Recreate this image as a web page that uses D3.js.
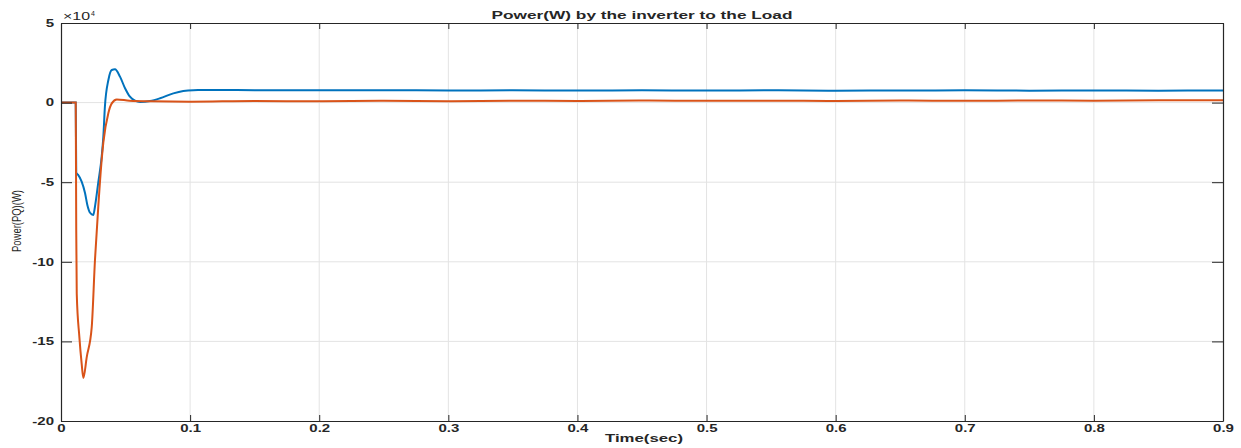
<!DOCTYPE html>
<html>
<head>
<meta charset="utf-8">
<script src="https://cdn.jsdelivr.net/npm/d3@7"></script>
<style>
  html, body { margin: 0; padding: 0; background: #fff; }
  svg { display: block; }
  text { font-family: "Liberation Sans", Arial, sans-serif; fill: #262626; }
</style>
</head>
<body>
<svg id="chart" width="1241" height="448"></svg>
<script>
// ---- data (values in units of 1e4 W) ----
const xTicks = [0, 0.1, 0.2, 0.3, 0.4, 0.5, 0.6, 0.7, 0.8, 0.9];
const yTicks = [5, 0, -5, -10, -15, -20];
const xTickLabels = ["0", "0.1", "0.2", "0.3", "0.4", "0.5", "0.6", "0.7", "0.8", "0.9"];
const yTickLabels = ["5", "0", "-5", "-10", "-15", "-20"];

const blueT = [0, 0.0114, 0.0118, 0.0125, 0.0134, 0.016, 0.0186, 0.0204, 0.0225, 0.025, 0.0263, 0.0289, 0.0315, 0.0328, 0.034, 0.0367, 0.0393, 0.0418, 0.0457, 0.0496, 0.0534, 0.0573, 0.0612, 0.069, 0.0767, 0.087, 0.0947, 0.1025, 0.12, 0.15, 0.2, 0.25, 0.3, 0.35, 0.4, 0.45, 0.5, 0.55, 0.6, 0.65, 0.7, 0.75, 0.8, 0.85, 0.9];
const blueV = [0, 0, -4.4, -4.48, -4.55, -4.97, -5.68, -6.43, -6.92, -7.06, -6.54, -5.0, -3.4, -2.14, -0.26, 1.42, 2.05, 2.09, 1.63, 0.9, 0.37, 0.12, 0.04, 0.1, 0.27, 0.58, 0.73, 0.78, 0.79, 0.78, 0.77, 0.78, 0.76, 0.77, 0.76, 0.77, 0.76, 0.77, 0.75, 0.76, 0.77, 0.75, 0.76, 0.75, 0.76];

const orangeT = [0, 0.0114, 0.0118, 0.0122, 0.0142, 0.016, 0.0173, 0.0199, 0.0238, 0.0263, 0.0289, 0.0315, 0.0328, 0.0367, 0.0393, 0.0432, 0.053, 0.07, 0.1, 0.15, 0.2, 0.25, 0.3, 0.35, 0.4, 0.45, 0.5, 0.55, 0.6, 0.65, 0.7, 0.75, 0.8, 0.85, 0.9];
const orangeV = [0, 0, -8.0, -12.0, -14.7, -16.4, -17.3, -16.0, -14.1, -9.9, -6.5, -3.6, -2.5, -0.65, -0.05, 0.2, 0.12, 0.08, 0.06, 0.1, 0.08, 0.11, 0.09, 0.12, 0.1, 0.13, 0.11, 0.12, 0.1, 0.13, 0.11, 0.13, 0.12, 0.14, 0.14];

const blueData = blueT.map((t, i) => ({ t, v: blueV[i] }));
const orangeData = orangeT.map((t, i) => ({ t, v: orangeV[i] }));

// ---- layout ----
const L = 61, R = 1223, T = 23, B = 421;
const svg = d3.select("#chart");
const x = d3.scaleLinear().domain([0, 0.9]).range([L, R]);
const y = d3.scaleLinear().domain([-20, 5]).range([B, T]);
const SX = 1.5; // horizontal stretch of the reference text

// grid
const grid = svg.append("g");
grid.selectAll("line.gx").data(xTicks.slice(1, -1)).join("line")
  .attr("x1", d => x(d)).attr("x2", d => x(d)).attr("y1", T).attr("y2", B)
  .attr("stroke", "#e3e3e3").attr("stroke-width", 1);
grid.selectAll("line.gy").data(yTicks.slice(1, -1)).join("line")
  .attr("y1", d => y(d)).attr("y2", d => y(d)).attr("x1", L).attr("x2", R)
  .attr("stroke", "#e3e3e3").attr("stroke-width", 1);

// clip
svg.append("clipPath").attr("id", "clip").append("rect")
  .attr("x", L).attr("y", T).attr("width", R - L).attr("height", B - T);

const line = d3.line().x(d => x(d.t)).y(d => y(d.v)).curve(d3.curveMonotoneX);
const plot = svg.append("g").attr("clip-path", "url(#clip)");
plot.append("path").datum(blueData).attr("d", line)
  .attr("fill", "none").attr("stroke", "#0072BD").attr("stroke-width", 2);
plot.append("path").datum(orangeData).attr("d", line)
  .attr("fill", "none").attr("stroke", "#D95319").attr("stroke-width", 2);

// axes
const axColor = "#262626";
function styleAxis(g) {
  g.select(".domain").attr("stroke", axColor).attr("stroke-width", 1.2);
  g.selectAll(".tick line").attr("stroke", axColor);
}
const xAxisB = svg.append("g").attr("transform", `translate(0,${B})`)
  .call(d3.axisBottom(x).tickValues(xTicks).tickFormat((d, i) => xTickLabels[i]).tickSizeInner(-6).tickSizeOuter(0).tickPadding(0));
styleAxis(xAxisB);
xAxisB.selectAll(".tick text").attr("font-size", 10).attr("font-weight", "bold").attr("fill", axColor)
  .attr("y", 11).attr("dy", 0).attr("transform", `scale(${SX},1)`);

const xAxisT = svg.append("g").attr("transform", `translate(0,${T})`)
  .call(d3.axisTop(x).tickValues(xTicks).tickFormat("").tickSizeInner(-6).tickSizeOuter(0));
styleAxis(xAxisT);

const yAxisL = svg.append("g").attr("transform", `translate(${L},0)`)
  .call(d3.axisLeft(y).tickValues(yTicks).tickFormat((d, i) => yTickLabels[i]).tickSizeInner(-11).tickSizeOuter(0).tickPadding(0));
styleAxis(yAxisL);
yAxisL.selectAll(".tick text").attr("font-size", 10).attr("font-weight", "bold").attr("fill", axColor)
  .attr("x", -7 / SX).attr("transform", `scale(${SX},1)`);

const yAxisR = svg.append("g").attr("transform", `translate(${R},0)`)
  .call(d3.axisRight(y).tickValues(yTicks).tickFormat("").tickSizeInner(-11).tickSizeOuter(0));
styleAxis(yAxisR);

// exponent
const ex = svg.append("text").attr("x", 63).attr("y", 20).attr("font-size", 10).attr("fill", axColor);
ex.append("tspan").text("×10").attr("textLength", 27).attr("lengthAdjust", "spacingAndGlyphs");
svg.append("text").attr("x", 91).attr("y", 16).attr("font-size", 7).attr("fill", axColor).text("4");

// title
svg.append("text").attr("x", 642).attr("y", 19).attr("text-anchor", "middle")
  .attr("font-size", 10).attr("font-weight", "bold")
  .attr("textLength", 301).attr("lengthAdjust", "spacingAndGlyphs")
  .text("Power(W) by the inverter to the Load");

// x label
svg.append("text").attr("x", 644).attr("y", 442).attr("text-anchor", "middle")
  .attr("font-size", 10).attr("font-weight", "bold")
  .attr("textLength", 78).attr("lengthAdjust", "spacingAndGlyphs")
  .text("Time(sec)");

// y label
svg.append("text").attr("transform", "translate(21,221) rotate(-90)").attr("text-anchor", "middle")
  .attr("font-size", 13)
  .attr("textLength", 62).attr("lengthAdjust", "spacingAndGlyphs")
  .text("Power(PQ)(W)");
</script>
</body>
</html>
